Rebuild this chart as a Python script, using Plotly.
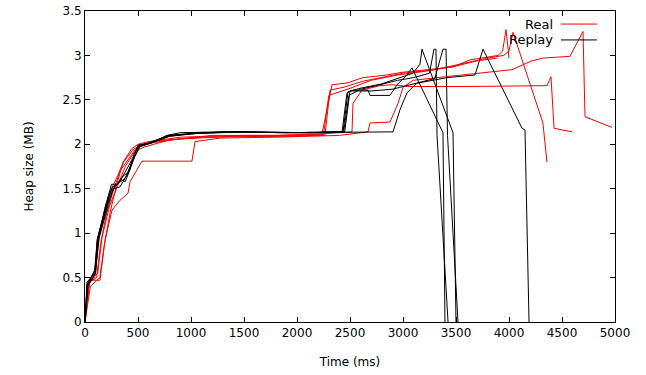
import plotly.graph_objects as go

# ---- Real (red) runs ----
real1_x = [0, 30, 120, 160, 230, 300, 380, 470, 560, 800, 1200, 1800, 2236, 2330, 2472, 2623, 2849, 2991, 3472, 3632, 3896, 3940, 3972, 4000]
real1_y = [0, 0.42, 0.55, 0.95, 1.3, 1.5, 1.75, 1.92, 1.97, 2.05, 2.1, 2.1, 2.12, 2.67, 2.69, 2.75, 2.78, 2.81, 2.87, 2.95, 3.0, 3.05, 3.29, 2.97]

real2_x = [0, 40, 110, 150, 200, 260, 330, 420, 480, 520, 700, 1100, 1700, 2264, 2311, 2434, 2623, 3000, 3300, 3600, 3800, 3950, 4000, 4038, 4320, 4358]
real2_y = [0, 0.45, 0.5, 0.9, 1.2, 1.45, 1.7, 1.85, 1.95, 1.98, 2.04, 2.08, 2.09, 2.1, 2.61, 2.64, 2.71, 2.8, 2.84, 2.92, 2.97, 3.0, 3.05, 3.26, 2.24, 1.8]

real3_x = [0, 50, 140, 180, 240, 300, 360, 440, 500, 600, 900, 1500, 2000, 2519, 2528, 2613, 2783, 2900, 3040, 3600, 4358, 4396, 4425, 4594]
real3_y = [0, 0.4, 0.5, 0.85, 1.25, 1.55, 1.8, 1.95, 2.0, 2.03, 2.08, 2.1, 2.1, 2.14, 2.46, 2.61, 2.66, 2.67, 2.65, 2.65, 2.66, 2.76, 2.18, 2.14]

real4_x = [0, 47, 141, 189, 255, 330, 406, 425, 538, 1009, 1038, 1274, 1800, 2400, 2670, 2689, 2877, 2953, 3000, 3094, 3400, 3915, 4028, 4217, 4320, 4575, 4698, 4717, 4972]
real4_y = [0, 0.47, 0.47, 0.92, 1.26, 1.37, 1.45, 1.58, 1.81, 1.81, 2.03, 2.07, 2.08, 2.1, 2.14, 2.24, 2.25, 2.46, 2.64, 2.72, 2.76, 2.83, 2.84, 2.94, 2.97, 2.99, 3.27, 2.31, 2.19]

real5_x = [0, 35, 100, 140, 190, 250, 310, 358, 453, 520, 650, 900, 1400, 2000, 2250, 2300, 2500, 2700, 2950, 3200, 3500, 3700, 3890]
real5_y = [0, 0.44, 0.6, 1.0, 1.3, 1.5, 1.65, 1.79, 1.94, 1.99, 2.02, 2.06, 2.09, 2.09, 2.11, 2.55, 2.63, 2.72, 2.78, 2.82, 2.88, 2.94, 2.97]

# ---- Replay (black) runs ----
replay1_x = [0, 19, 94, 113, 208, 255, 300, 349, 420, 453, 500, 613, 774, 896, 1274, 1900, 2425, 2472, 2528, 2670, 2689, 2877, 2943, 3038, 3085, 3377, 3396]
replay1_y = [0, 0.45, 0.55, 0.92, 1.34, 1.51, 1.55, 1.63, 1.7, 1.84, 1.99, 2.01, 2.1, 2.13, 2.14, 2.13, 2.14, 2.58, 2.61, 2.61, 2.55, 2.55, 2.67, 2.78, 2.86, 2.13, 0]

replay2_x = [0, 25, 100, 125, 220, 270, 330, 380, 460, 520, 650, 800, 1000, 1300, 1900, 2434, 2481, 2594, 2800, 2972, 3094, 3160, 3179, 3472, 3500]
replay2_y = [0, 0.4, 0.55, 0.95, 1.35, 1.5, 1.52, 1.62, 1.85, 1.98, 2.03, 2.09, 2.12, 2.14, 2.13, 2.14, 2.59, 2.63, 2.68, 2.75, 2.8, 2.9, 3.07, 2.13, 0]

replay3_x = [0, 20, 90, 120, 210, 250, 300, 360, 400, 470, 510, 600, 800, 1100, 1500, 2100, 2440, 2490, 2600, 2750, 2950, 3100, 3250, 3292, 3311, 3321, 3425]
replay3_y = [0, 0.42, 0.58, 0.95, 1.38, 1.55, 1.55, 1.6, 1.65, 1.9, 1.98, 2.02, 2.1, 2.13, 2.14, 2.13, 2.14, 2.55, 2.62, 2.66, 2.72, 2.75, 2.8, 3.07, 3.07, 2.1, 0]

replay4_x = [0, 22, 96, 118, 215, 260, 320, 355, 440, 505, 620, 780, 1000, 1400, 2000, 2906, 2972, 3038, 3132, 3300, 3377, 3406, 3420, 3519]
replay4_y = [0, 0.43, 0.56, 0.9, 1.36, 1.52, 1.56, 1.64, 1.82, 1.99, 2.02, 2.1, 2.12, 2.14, 2.13, 2.14, 2.39, 2.58, 2.69, 2.74, 3.07, 3.07, 2.1, 0]

replay5_x = [0, 28, 98, 130, 220, 265, 340, 380, 470, 515, 640, 790, 1050, 1500, 2100, 2450, 2500, 2700, 2900, 3100, 3415, 3679, 3755, 4123, 4151, 4189]
replay5_y = [0, 0.42, 0.54, 0.93, 1.32, 1.5, 1.6, 1.58, 1.86, 1.97, 2.02, 2.09, 2.12, 2.14, 2.13, 2.14, 2.6, 2.6, 2.62, 2.68, 2.75, 2.78, 3.07, 2.18, 2.16, 0]

x_ticks = [0, 500, 1000, 1500, 2000, 2500, 3000, 3500, 4000, 4500, 5000]
y_ticks = [0, 0.5, 1, 1.5, 2, 2.5, 3, 3.5]
y_tick_labels = ["0", "0.5", "1", "1.5", "2", "2.5", "3", "3.5"]

real_runs = [(real1_x, real1_y), (real2_x, real2_y), (real3_x, real3_y), (real4_x, real4_y), (real5_x, real5_y)]
replay_runs = [(replay1_x, replay1_y), (replay2_x, replay2_y), (replay3_x, replay3_y), (replay4_x, replay4_y), (replay5_x, replay5_y)]

RED = "#ff0000"
BLACK = "#000000"

fig = go.Figure()
for xs, ys in real_runs:
    fig.add_trace(go.Scatter(x=xs, y=ys, mode="lines", line=dict(color=RED, width=1), showlegend=False, name="Real"))
for xs, ys in replay_runs:
    fig.add_trace(go.Scatter(x=xs, y=ys, mode="lines", line=dict(color=BLACK, width=1), showlegend=False, name="Replay"))

font = dict(family="DejaVu Sans, sans-serif", size=12, color="#000000")

axis_common = dict(
    showgrid=False, zeroline=False, showline=True, linecolor="#000000", linewidth=1,
    mirror="allticks", ticks="inside", ticklen=5, tickcolor="#000000", tickwidth=1,
    tickfont=font, automargin=False,
)

fig.update_layout(
    width=646, height=375,
    margin=dict(l=85, r=31, t=11, b=53),
    paper_bgcolor="white", plot_bgcolor="white",
    font=font,
    xaxis=dict(range=[0, 5000], tickvals=x_ticks, title=dict(text="Time (ms)", font=font, standoff=18), **axis_common),
    yaxis=dict(range=[0, 3.5], tickvals=y_ticks, ticktext=y_tick_labels, title=dict(text="Heap size (MB)", font=font, standoff=26), **axis_common),
)

# gnuplot-style key: text right-aligned, sample line to its right
legend_items = [("Real", RED, 0.958), ("Replay", BLACK, 0.907)]
for label, color, ypos in legend_items:
    fig.add_annotation(x=0.887, y=ypos, xref="paper", yref="paper", text=label, showarrow=False,
                       xanchor="right", yanchor="middle", font=dict(family="DejaVu Sans, sans-serif", size=13, color="#000000"))
    fig.add_shape(type="line", xref="paper", yref="paper", x0=0.898, x1=0.966, y0=ypos, y1=ypos,
                  line=dict(color=color, width=1))

fig.write_html("out.html", config={"displayModeBar": False},
               post_script="document.body.style.margin='0';document.body.style.padding='0';")
